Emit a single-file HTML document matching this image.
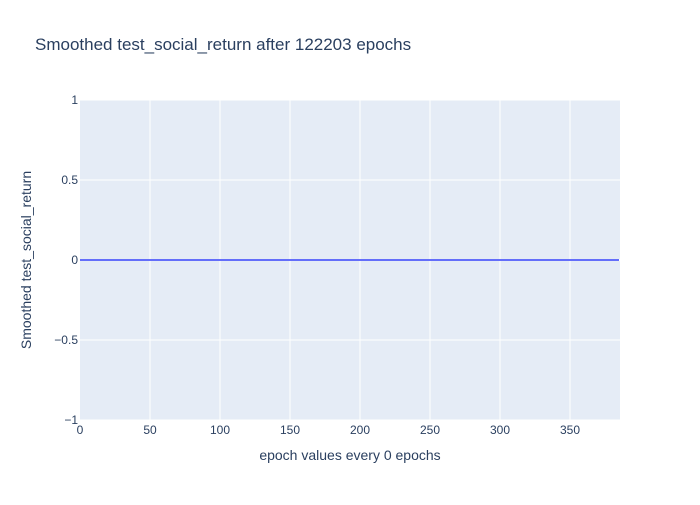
<!DOCTYPE html>
<html><head><meta charset="utf-8"><style>
body{margin:0;background:#fff;font-family:"Liberation Sans",sans-serif;}
svg text{font-family:"Liberation Sans",sans-serif;}
</style></head><body>
<svg id="chart" width="700" height="500" xmlns="http://www.w3.org/2000/svg">
<rect width="700" height="500" fill="#fff"/>
<text x="35" y="50" font-size="17" fill="#2a3f5f">Smoothed test_social_return after 122203 epochs</text>
<rect x="80" y="100" width="540" height="320" fill="#e5ecf6"/>
<g id="grid"></g>
<g id="series"></g>
<g id="ticks"></g>
<text x="350" y="460" font-size="14" fill="#2a3f5f" text-anchor="middle">epoch values every 0 epochs</text>
<text transform="translate(31,260) rotate(-90)" font-size="14" fill="#2a3f5f" text-anchor="middle">Smoothed test_social_return</text>
</svg>
<script>
const xTicks=[0,50,100,150,200,250,300,350];
const yTicks=[-1,-0.5,0,0.5,1];
const yTickLabels=["\u22121","\u22120.5","0","0.5","1"];
const epochs=[0,50,100,150,200,250,300,350,385];
const values=[0,0,0,0,0,0,0,0,0];
const xMin=0,xMax=385.7,yMin=-1,yMax=1;
const L=80,R=620,T=100,B=420;
const sx=v=>L+(v-xMin)/(xMax-xMin)*(R-L);
const sy=v=>B-(v-yMin)/(yMax-yMin)*(B-T);
const NS="http://www.w3.org/2000/svg";
const grid=document.getElementById('grid'),ticks=document.getElementById('ticks'),series=document.getElementById('series');
function mk(tag,attrs,parent){const e=document.createElementNS(NS,tag);for(const k in attrs)e.setAttribute(k,attrs[k]);parent.appendChild(e);return e;}
xTicks.forEach(t=>{
 const x=sx(t);
 if(t!==0){const g=mk('line',{x1:x,x2:x,y1:T,y2:B,stroke:'#fff','stroke-width':1},grid);
 
 }
 const tx=mk('text',{x:x,y:B+14,'font-size':12,fill:'#2a3f5f','text-anchor':'middle'},ticks);
 tx.textContent=t;
 
 
});
yTicks.forEach((t,i)=>{
 const y=sy(t);
 const g=mk('line',{x1:L,x2:R,y1:y,y2:y,stroke:'#fff','stroke-width':t===0?2:1},grid);
 
 
 const tx=mk('text',{x:L-2,y:y+4,'font-size':12,fill:'#2a3f5f','text-anchor':'end'},ticks);
 tx.textContent=yTickLabels[i];
 
 
});
const pl=mk('polyline',{points:epochs.map((e,i)=>sx(e)+','+sy(values[i])).join(' '),fill:'none',stroke:'#636efa','stroke-width':2},series);


</script>
</body></html>
